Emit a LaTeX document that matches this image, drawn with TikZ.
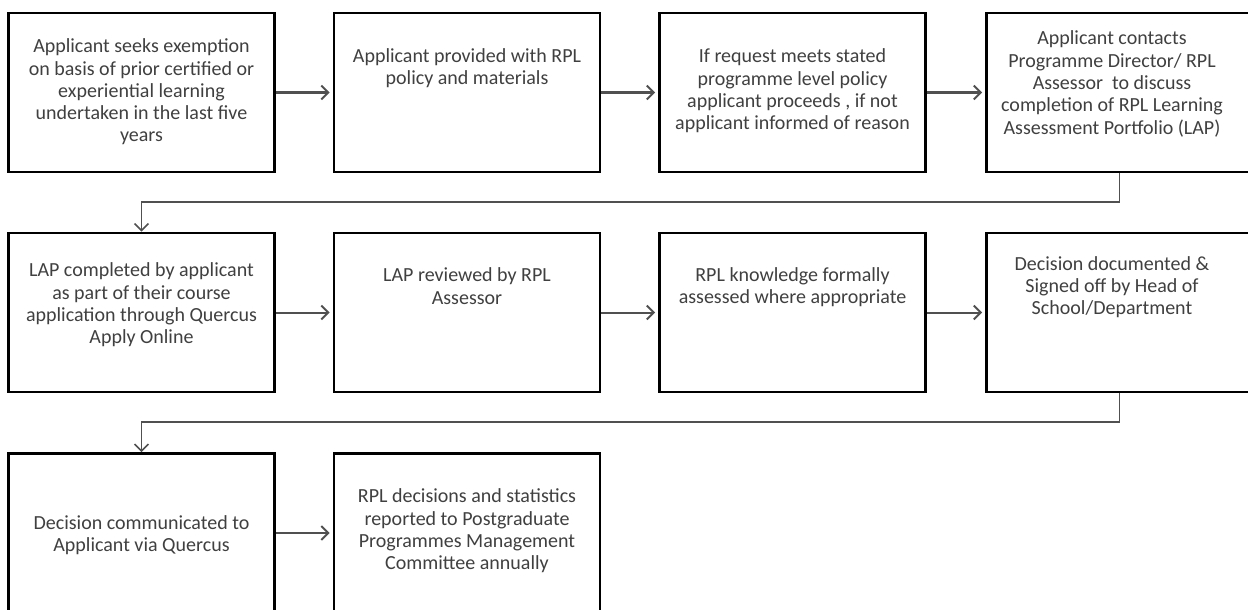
\documentclass[tikz,border=0pt]{standalone}
\usepackage{fontspec}
\setmainfont{Carlito}
\usetikzlibrary{arrows.meta}
\definecolor{txtgray}{HTML}{404040}
\definecolor{arrgray}{HTML}{505050}
\begin{document}
\begin{tikzpicture}[x=1pt,y=-1pt,
  box/.style={draw=black,line width=2.6pt,minimum width=266pt,minimum height=159pt,inner sep=0pt},
  txt/.style={align=center,text=txtgray,font=\fontsize{20}{22.3}\selectfont,inner sep=0pt},
  flow/.style={draw=arrgray,line width=2pt,-{Straight Barb[length=7pt,width=14pt,line width=2pt]},shorten >=3pt},
  link/.style={draw=arrgray,line width=1.6pt,-{Straight Barb[length=7pt,width=14pt,line width=1.6pt]}}]
\useasboundingbox[fill=white] (0,0) rectangle (1248,610);
% row 1
\node[box] (a1) at (141.5,92.5) {};
\node[box] (a2) at (467,92.5) {};
\node[box] (a3) at (792.5,92.5) {};
\node[box] (a4) at (1119.5,92.5) {};
% row 2
\node[box] (b1) at (141.5,312.5) {};
\node[box] (b2) at (467,312.5) {};
\node[box] (b3) at (792.5,312.5) {};
\node[box] (b4) at (1119.5,312.5) {};
% row 3
\node[box] (c1) at (141.5,533) {};
\node[box] (c2) at (467,533) {};
% texts
\node[txt] (ta1) at (141.5,92) {Applicant seeks exemption\\on basis of prior certified or\\experiential learning\\undertaken in the last five\\years};
\node[txt] (ta2) at (467,68) {Applicant provided with RPL\\policy and materials};
\node[txt] (ta3) at (792.5,91) {If request meets stated\\programme level policy\\applicant proceeds , if not\\applicant informed of reason};
\node[txt] (ta4) at (1112,84) {Applicant contacts\\Programme Director/ RPL\\Assessor\ \ to discuss\\completion of RPL Learning\\Assessment Portfolio (LAP)};
\node[txt] (tb1) at (141.5,305) {LAP completed by applicant\\as part of their course\\application through Quercus\\Apply Online};
\node[txt] (tb2) at (467,286) {LAP reviewed by RPL\\Assessor};
\node[txt] (tb3) at (792.5,287) {RPL knowledge formally\\assessed where appropriate};
\node[txt] (tb4) at (1112,287) {Decision documented \&\\Signed off by Head of\\School/Department};
\node[txt] (tc1) at (141.5,535) {Decision communicated to\\Applicant via Quercus};
\node[txt] (tc2) at (467,531) {RPL decisions and statistics\\reported to Postgraduate\\Programmes Management\\Committee annually};
% horizontal arrows
\draw[flow] (a1.east) -- (a2.west);
\draw[flow] (a2.east) -- (a3.west);
\draw[flow] (a3.east) -- (a4.west);
\draw[flow] (b1.east) -- (b2.west);
\draw[flow] (b2.east) -- (b3.west);
\draw[flow] (b3.east) -- (b4.west);
\draw[flow] (c1.east) -- (c2.west);
% row links
\coordinate (k1) at (1119.5,202);
\coordinate (k2) at (1119.5,422);
\draw[link] (a4.south) -- (k1) -- (k1 -| b1.north) -- (b1.north);
\draw[link] (b4.south) -- (k2) -- (k2 -| c1.north) -- (c1.north);
\end{tikzpicture}
\end{document}
